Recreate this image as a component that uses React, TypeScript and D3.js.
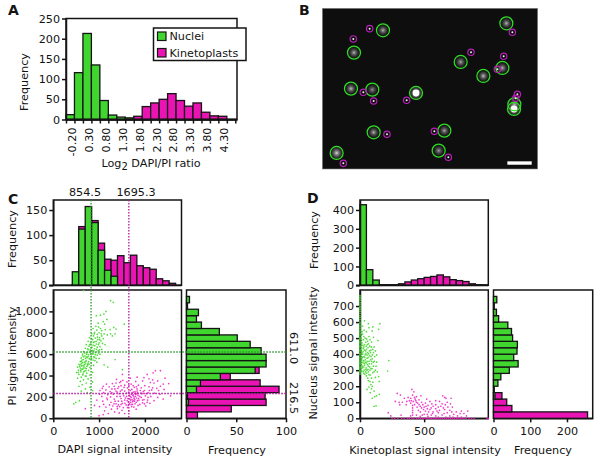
import { useEffect, useRef } from 'react';
import * as d3 from 'd3';

const GREEN = '#41d62f';
const PINK = '#ea14b4';
const INK = '#141414';
const FONT = '"DejaVu Sans", Verdana, sans-serif';
const TEXT_SIZE = 11.2;

// A: log2 ratio histogram, bins of 0.25 from -0.45
const ratioGreen = [12, 116, 213, 135, 47, 11, 6, 4];
const ratioPink = [0, 0, 0, 0, 0, 0, 0, 0, 8, 32, 41, 50, 64, 47, 33, 41, 18, 9, 8];
const ratioTicks = [-0.2, 0.3, 0.8, 1.3, 1.8, 2.3, 2.8, 3.3, 3.8, 4.3];

// B: microscope field, positions in image pixels
const nucleiCells = [
  [249, 91, 0.7], [162, 158, 0.7], [482, 186, 0.65], [550, 228, 0.75], [607, 204, 0.7], [619, 70, 0.7],
  [153, 266, 0.75], [217, 269, 0.55], [348, 279, 1], [643, 313, 0.7], [642, 327, 1], [221, 397, 0.7],
  [433, 392, 0.65], [416, 452, 0.6], [110, 459, 0.85],
];
const kinetoCells = [
  [209, 86], [160, 117], [513, 157], [611, 169], [592, 208], [637, 97], [190, 277], [221, 303], [320, 301],
  [652, 283], [647, 295], [261, 403], [403, 394], [445, 472], [130, 490],
];

// C: DAPI histogram (140 wide bins from 415)
const dapiGreen = [27, 112, 157, 125, 70, 30, 18];
const dapiPink = [2, 117, 3, 129, 84, 52, 50, 59, 45, 60, 39, 35, 32, 13, 9, 4];
// C: PI histogram (60 wide bins from 0)
const piGreen = [0, 0, 2, 1, 10, 14, 34, 69, 80, 80, 75, 64, 51, 33, 15, 10, 12, 1, 3];
const piPink = [11, 45, 80, 79, 93, 74, 44, 73];

const dapiGreenPts = [
  [1250, 1100], [1310, 1085], [1150, 1000], [1105, 975], [1030, 965], [940, 960], [1170, 925], [1090, 905],
  [980, 890], [1120, 880], [1320, 850], [1370, 835], [1240, 830], [1250, 790], [1350, 790], [1290, 770],
  [930, 860], [990, 855], [1030, 840], [870, 840], [950, 825], [1060, 820], [900, 805], [1000, 800],
  [1110, 790], [1180, 780], [840, 790], [960, 785], [1060, 770], [880, 770], [1010, 755], [920, 750],
  [790, 755], [1090, 745], [970, 735], [860, 735], [1040, 725], [760, 720], [900, 715], [1000, 705],
  [820, 705], [940, 695], [1130, 690], [720, 690], [870, 685], [780, 675], [1020, 670], [960, 665],
  [830, 660], [700, 655], [900, 650], [1060, 645], [760, 640], [850, 635], [980, 630], [660, 625],
  [800, 620], [920, 615], [730, 612], [870, 605], [1020, 600], [640, 600], [770, 595], [960, 590],
  [690, 585], [830, 580], [900, 572], [740, 568], [610, 565], [1000, 560], [800, 555], [660, 550],
  [870, 545], [720, 540], [1350, 550], [590, 532], [770, 530], [950, 525], [640, 520], [830, 515],
  [700, 510], [560, 505], [750, 498], [880, 495], [620, 490], [1190, 480], [670, 482], [530, 478],
  [800, 475], [590, 470], [720, 465], [640, 458], [1110, 500], [550, 450], [770, 448], [680, 442],
  [600, 435], [860, 430], [510, 428], [730, 422], [650, 415], [560, 410], [800, 405], [700, 395],
  [610, 385], [530, 375], [760, 368], [660, 360], [590, 345], [860, 340], [720, 330], [630, 315],
  [560, 300], [800, 290], [700, 275], [610, 255], [860, 260], [740, 240], [490, 150], [570, 165],
  [450, 135], [660, 1195], [1550, 880], [1510, 455], [640, 585], [910, 540], [690, 610], [745, 505],
  [615, 530], [855, 600], [795, 690], [1010, 640], [720, 575], [655, 470], [585, 500], [835, 745],
  [680, 500], [610, 510], [705, 530], [650, 495], [575, 485], [735, 485], [625, 460], [695, 470], [760, 515],
  [600, 450], [665, 435], [710, 445], [545, 430], [785, 560], [730, 600], [815, 600], [885, 630], [945, 645],
  [845, 665], [905, 680], [985, 690], [805, 640], [875, 710], [935, 720], [1015, 735], [965, 760], [895, 790],
  [1045, 790], [1135, 830], [835, 560], [705, 560], [665, 575], [760, 580], [625, 545], [680, 525], [1075, 700],
  [915, 595], [985, 610], [755, 650], [825, 625], [885, 575], [935, 560], [780, 505], [640, 405], [720, 395],
];
const dapiPinkPts = [
  [2230, 445], [2340, 445], [2180, 425], [2050, 410], [1830, 385], [1510, 410], [1380, 365], [1520, 355],
  [1680, 375], [1980, 380], [2090, 370], [2170, 360], [2440, 375], [2280, 350], [2520, 325], [2400, 320],
  [2340, 300], [2200, 330], [2120, 335], [1950, 350], [1800, 345], [1610, 340], [1450, 335], [1370, 330],
  [1290, 325], [1160, 320], [1090, 300], [1220, 295], [1330, 300], [1480, 305], [1560, 310], [1700, 320],
  [1860, 310], [2000, 305], [2090, 295], [2260, 280], [2420, 270], [2150, 265], [1920, 285], [1770, 290],
  [1620, 285], [1410, 280], [1280, 275], [1150, 265], [1020, 260], [1100, 240], [1240, 250], [1370, 255],
  [1500, 265], [1680, 260], [1830, 255], [1990, 260], [2070, 240], [2210, 235], [2330, 225], [2560, 210],
  [1940, 230], [1790, 235], [1720, 240], [1600, 235], [1440, 230], [1310, 225], [1190, 220], [1010, 225],
  [1060, 205], [1250, 200], [1390, 205], [1540, 210], [1660, 215], [1750, 220], [1850, 215], [2010, 210],
  [2130, 205], [2280, 195], [1760, 200], [1700, 195], [1820, 190], [1920, 195], [1630, 185], [1480, 185],
  [1330, 180], [1180, 175], [950, 170], [1080, 160], [1260, 150], [1420, 160], [1560, 170], [1690, 170],
  [1780, 175], [1870, 170], [1980, 175], [2060, 170], [2200, 165], [2400, 180], [1730, 155], [1640, 150],
  [1810, 150], [1950, 145], [2110, 140], [1510, 140], [1370, 135], [1230, 125], [900, 120], [1010, 110],
  [1150, 105], [1300, 115], [1450, 110], [1590, 125], [1700, 130], [1850, 120], [2020, 115], [1760, 105],
  [1620, 100], [1400, 90], [1270, 85], [1120, 70], [1340, 60], [1500, 75], [1650, 70], [1810, 85],
  [1200, 45], [1090, 35], [1440, 50], [1560, 45], [1000, 25], [700, 90], [640, 0], [1720, 175],
  [1750, 245], [1680, 205], [1800, 225], [1770, 160], [1840, 240], [1660, 135], [1710, 110], [1900, 260],
  [1600, 205], [1560, 255], [1460, 205], [1350, 160], [1420, 125], [1530, 100], [1890, 130], [1950, 170],
  [2070, 195], [2170, 285], [2300, 260], [1070, 280], [1170, 190], [1280, 240], [1100, 130], [1830, 275],
  [1735, 215], [1765, 185], [1795, 205], [1825, 230], [1705, 225], [1675, 180], [1745, 165], [1785, 250],
  [1715, 270], [1645, 245], [1615, 165], [1575, 190], [1525, 230], [1495, 160], [1465, 255], [1430, 295],
  [1395, 245], [1345, 275], [1885, 205], [1915, 235], [1965, 250], [2030, 230], [2100, 260], [1860, 185],
  [1690, 150], [1730, 130], [1635, 120], [1565, 140], [1480, 130], [1395, 110], [1325, 135], [1785, 135],
  [1840, 165], [1990, 135], [2050, 150], [1545, 290], [1650, 310], [1745, 305], [1815, 295], [1475, 345],
];
const dapiGuides = [825, 1650];
const dapiGuideLabels = ['854.5', '1695.3'];
const piGuides = [620, 232];
const piGuideLabels = ['611.0', '216.5'];

// D: kinetoplast histogram (50 wide bins from 0)
const kinetoGreen = [428, 83, 28, 3, 3, 3];
const kinetoPink = [0, 0, 0, 0, 0, 0, 8, 18, 28, 35, 42, 47, 55, 45, 30, 25, 20, 8, 3, 2];
// D: nucleus histogram (40 wide bins from 0)
const nucleusGreen = [0, 0, 0, 4, 2, 12, 20, 43, 67, 55, 64, 65, 52, 49, 39, 14, 8, 2, 9];
const nucleusPink = [256, 50, 36, 23];

const kinetoGreenPts = [
  [35, 608], [65, 590], [155, 590], [70, 565], [100, 570], [95, 545], [145, 555], [20, 575], [50, 540],
  [20, 525], [40, 500], [70, 510], [105, 505], [140, 485], [60, 480], [90, 475], [15, 470], [35, 460],
  [75, 450], [110, 445], [15, 440], [50, 430], [85, 425], [25, 415], [60, 410], [105, 410], [10, 400],
  [40, 395], [75, 390], [115, 385], [20, 380], [55, 375], [95, 370], [30, 360], [70, 355], [130, 350],
  [225, 360], [15, 350], [50, 345], [90, 340], [10, 335], [35, 330], [65, 325], [105, 325], [20, 315],
  [85, 310], [215, 295], [45, 305], [120, 300], [15, 295], [65, 290], [100, 285], [30, 280], [145, 260],
  [80, 270], [50, 265], [120, 255], [90, 250], [65, 235], [25, 290], [100, 225], [150, 230], [85, 210],
  [70, 195], [90, 185], [55, 180], [110, 170], [80, 160], [150, 150], [130, 140], [115, 135], [95, 125],
  [110, 75], [125, 78], [30, 445], [45, 475], [55, 395], [25, 360], [40, 350], [12, 420], [62, 440],
  [30, 510], [82, 365], [48, 315], [72, 340], [18, 325], [36, 380], [96, 395], [22, 455], [58, 335],
  [8, 500], [10, 455], [44, 420], [68, 402], [14, 385], [32, 300], [52, 282], [112, 355], [78, 300],
  [70, 272], [60, 250], [78, 230], [95, 200], [6, 360], [8, 310], [26, 435], [42, 365], [88, 445],
  [16, 540], [32, 550], [10, 520], [26, 490], [52, 495], [12, 485], [78, 490], [34, 425], [48, 450], [66, 465],
  [82, 410], [100, 430], [20, 400], [30, 385], [46, 405], [64, 380], [86, 385], [104, 350], [14, 370], [36, 340],
  [56, 355], [76, 320], [94, 310], [28, 320], [44, 290], [62, 305], [110, 290], [38, 275], [54, 300], [16, 410],
  [120, 420], [130, 395], [125, 325], [135, 290], [6, 425], [6, 385], [24, 345], [90, 355], [74, 420], [58, 460],
];
const kinetoAxisGreen = [
  765, 755, 745, 735, 722, 712, 700, 690, 680, 668, 655, 640, 628, 615, 600, 590, 580, 570, 560, 550, 540, 532,
  525, 515, 505, 498, 490, 480, 472, 465, 455, 448, 440, 430, 422, 415, 405, 398, 390, 382, 375, 365, 358, 350,
  342, 335, 325, 318, 310, 300, 292, 285, 275,
];
const kinetoPinkPts = [
  [405, 180], [420, 165], [290, 155], [315, 145], [410, 145], [440, 135], [475, 140], [645, 140], [660, 130],
  [710, 125], [670, 125], [375, 130], [345, 125], [395, 125], [430, 120], [460, 115], [520, 120], [590, 110],
  [620, 105], [680, 100], [275, 105], [305, 100], [330, 100], [365, 105], [415, 105], [440, 100], [480, 100],
  [510, 95], [545, 105], [705, 90], [665, 85], [640, 90], [590, 85], [310, 85], [360, 85], [395, 95], [425, 85],
  [460, 85], [490, 85], [530, 80], [570, 75], [610, 70], [650, 65], [720, 70], [410, 80], [410, 65], [410, 50],
  [410, 35], [410, 20], [500, 70], [525, 60], [545, 55], [480, 65], [445, 70], [590, 60], [620, 50], [660, 55],
  [700, 50], [750, 40], [790, 45], [840, 45], [510, 45], [470, 40], [570, 40], [610, 35], [680, 35], [730, 25],
  [780, 30], [810, 30], [220, 35], [240, 15], [320, 20], [395, 15], [440, 20], [500, 25], [555, 20], [640, 20],
  [590, 15], [700, 15], [760, 15], [830, 15], [530, 12], [470, 12], [610, 8], [670, 8], [725, 8], [790, 8],
  [400, 110], [425, 130], [450, 95], [385, 110], [435, 110], [470, 75], [515, 75], [555, 65], [535, 40], [495, 55],
  [560, 90], [600, 45], [630, 75], [685, 70], [655, 30], [715, 40], [565, 30], [525, 25], [485, 20], [455, 50],
];
const kinetoAxisPink = [
  250, 270, 295, 325, 345, 370, 385, 405, 420, 440, 455, 470, 485, 500, 515, 530, 545, 555, 570, 585, 600, 615,
  630, 645, 660, 675, 690, 705, 720, 735, 750, 765, 780, 795, 810, 825, 850, 870, 890, 990, 1000,
];

function styleAxis(sel: any) {
  sel.selectAll('path').attr('stroke', INK).attr('stroke-width', 1.5);
  sel.selectAll('line').attr('stroke', INK).attr('stroke-width', 1.5);
  sel.selectAll('text').attr('fill', INK).attr('font-family', FONT).attr('font-size', TEXT_SIZE);
}

function label(svg: any, text: string, x: number, y: number, rotate = 0, size = TEXT_SIZE, weight = 'normal') {
  return svg
    .append('text')
    .attr('transform', `translate(${x},${y}) rotate(${rotate})`)
    .attr('text-anchor', rotate === 0 && weight === 'normal' ? 'middle' : rotate === 0 ? 'start' : 'middle')
    .attr('font-family', FONT)
    .attr('font-size', size)
    .attr('font-weight', weight)
    .attr('fill', INK)
    .text(text);
}

function box(svg: any, x0: number, y0: number, x1: number, y1: number) {
  svg
    .append('rect')
    .attr('x', x0)
    .attr('y', y0)
    .attr('width', x1 - x0)
    .attr('height', y1 - y0)
    .attr('fill', 'none')
    .attr('stroke', INK)
    .attr('stroke-width', 1.5);
}

// vertical bars; pink goes under green like in the original plots
function columns(svg: any, x: any, y: any, start: number, width: number, values: number[], color: string) {
  values.forEach((v, i) => {
    if (!v) return;
    svg
      .append('rect')
      .attr('x', x(start + i * width))
      .attr('y', y(v))
      .attr('width', x(start + (i + 1) * width) - x(start + i * width))
      .attr('height', y(0) - y(v))
      .attr('fill', color)
      .attr('stroke', INK)
      .attr('stroke-width', 1.3);
  });
}

function rows(svg: any, x: any, y: any, width: number, values: number[], color: string) {
  values.forEach((v, i) => {
    if (!v) return;
    svg
      .append('rect')
      .attr('x', x(0))
      .attr('y', y((i + 1) * width))
      .attr('width', x(v) - x(0))
      .attr('height', y(i * width) - y((i + 1) * width))
      .attr('fill', color)
      .attr('stroke', INK)
      .attr('stroke-width', 1.3);
  });
}

function dots(svg: any, x: any, y: any, pts: number[][], color: string) {
  svg
    .append('g')
    .selectAll('circle')
    .data(pts)
    .enter()
    .append('circle')
    .attr('cx', (d: number[]) => x(d[0]))
    .attr('cy', (d: number[]) => y(d[1]))
    .attr('r', 0.85)
    .attr('fill', color);
}

export default function App() {
  const ref = useRef<SVGSVGElement>(null);

  useEffect(() => {
    const svg = d3.select(ref.current);
    svg.selectAll('*').remove();

    // === A ===
    const ax = d3.scaleLinear().domain([-0.45, 4.6]).range([66, 237]);
    const ay = d3.scaleLinear().domain([0, 250]).range([119.5, 18.5]);
    box(svg, 66, 18.5, 237, 119.5);
    columns(svg, ax, ay, -0.45, 0.25, ratioPink, PINK);
    columns(svg, ax, ay, -0.45, 0.25, ratioGreen, GREEN);
    svg.append('g').attr('transform', 'translate(66,0)')
      .call(d3.axisLeft(ay).tickValues([0, 50, 100, 150, 200, 250]).tickSize(4).tickPadding(2).tickSizeOuter(0))
      .call(styleAxis);
    const aTicks = d3.range(0, 21).map((i) => -0.45 + i * 0.25);
    const aAxis = svg.append('g').attr('transform', 'translate(0,119.5)')
      .call(d3.axisBottom(ax).tickValues(aTicks).tickSize(4).tickSizeOuter(0)
        .tickFormat((d: any) => {
          const hit = ratioTicks.find((t) => Math.abs(t - d) < 0.01);
          return hit === undefined ? '' : hit.toFixed(2);
        }))
      .call(styleAxis);
    aAxis.selectAll('text')
      .attr('transform', 'rotate(-90)')
      .attr('text-anchor', 'end')
      .attr('x', -8)
      .attr('y', -3)
      .attr('dy', '0.35em');
    svg.append('path').attr('d', `M66,119.5H237`).attr('stroke', INK).attr('stroke-width', 2);
    label(svg, 'Frequency', 28, 82, -90);
    const logLabel = label(svg, 'Log', 151, 166.5);
    logLabel.append('tspan').attr('dy', 3.5).attr('font-size', 10).text('2');
    logLabel.append('tspan').attr('dy', -3.5).text(' DAPI/PI ratio');

    // legend
    svg.append('rect').attr('x', 153.5).attr('y', 28).attr('width', 92.5).attr('height', 32.5)
      .attr('fill', '#fff').attr('stroke', INK).attr('stroke-width', 1.5);
    [['Nuclei', GREEN, 32], ['Kinetoplasts', PINK, 48.5]].forEach(([name, color, top]: any) => {
      svg.append('rect').attr('x', 157.5).attr('y', top).attr('width', 8.5).attr('height', 8.5)
        .attr('fill', color).attr('stroke', INK).attr('stroke-width', 1.2);
      svg.append('text').attr('x', 169.5).attr('y', top + 8).attr('font-family', FONT)
        .attr('font-size', TEXT_SIZE).attr('fill', INK).text(name);
    });

    // === B ===
    const bx = d3.scaleLinear().domain([67, 713]).range([322.3, 537.7]);
    const by = d3.scaleLinear().domain([25, 507]).range([8.3, 169]);
    const defs = svg.append('defs');
    const glow = defs.append('radialGradient').attr('id', 'spot');
    glow.append('stop').attr('offset', '0%').attr('stop-color', '#fff').attr('stop-opacity', 1);
    glow.append('stop').attr('offset', '35%').attr('stop-color', '#ccc').attr('stop-opacity', 0.6);
    glow.append('stop').attr('offset', '100%').attr('stop-color', '#777').attr('stop-opacity', 0);
    svg.append('rect').attr('x', bx(67)).attr('y', by(25)).attr('width', bx(713) - bx(67)).attr('height', by(507) - by(25))
      .attr('fill', '#0e0e0e').attr('stroke', '#8a8a8a').attr('stroke-width', 0.6);
    nucleiCells.forEach(([x, y, level]) => {
      svg.append('circle').attr('cx', bx(x)).attr('cy', by(y)).attr('r', level >= 0.85 ? 7 : 6)
        .attr('fill', 'url(#spot)').attr('opacity', level);
      if (level >= 1) {
        svg.append('circle').attr('cx', bx(x)).attr('cy', by(y)).attr('r', 3.4).attr('fill', '#fff');
      }
    });
    nucleiCells.forEach(([x, y]) => {
      svg.append('circle').attr('cx', bx(x)).attr('cy', by(y)).attr('r', 6.5)
        .attr('fill', 'none').attr('stroke', '#2fe025').attr('stroke-width', 1.25);
    });
    kinetoCells.forEach(([x, y]) => {
      svg.append('circle').attr('cx', bx(x)).attr('cy', by(y)).attr('r', 1).attr('fill', '#eee');
      svg.append('circle').attr('cx', bx(x)).attr('cy', by(y)).attr('r', 3.2)
        .attr('fill', 'none').attr('stroke', '#b81fb8').attr('stroke-width', 1.2);
    });
    svg.append('rect').attr('x', bx(622)).attr('y', by(484)).attr('width', bx(695) - bx(622)).attr('height', 3.4).attr('fill', '#fff');

    // === C ===
    const cx = d3.scaleLinear().domain([0, 2800]).range([53.3, 181.5]);
    const cTop = d3.scaleLinear().domain([0, 170]).range([285.3, 200]);
    const cy = d3.scaleLinear().domain([0, 1200]).range([418.3, 290]);
    const cSide = d3.scaleLinear().domain([0, 100]).range([186.5, 286]);

    box(svg, 53.3, 200, 181.5, 285.3);
    columns(svg, cx, cTop, 415, 141, dapiPink, PINK);
    columns(svg, cx, cTop, 415, 141, dapiGreen, GREEN);
    svg.append('g').attr('transform', 'translate(53.3,0)')
      .call(d3.axisLeft(cTop).tickValues([0, 50, 100, 150]).tickSize(4).tickPadding(2).tickSizeOuter(0))
      .call(styleAxis);
    svg.append('path').attr('d', 'M49,285.3H181.5').attr('stroke', INK).attr('stroke-width', 1.8);

    box(svg, 53.3, 290, 181.5, 418.3);
    dots(svg, cx, cy, dapiPinkPts, '#f03ccb');
    dots(svg, cx, cy, dapiGreenPts, '#52dc3e');
    svg.append('g').attr('transform', 'translate(53.3,0)')
      .call(d3.axisLeft(cy).tickValues([0, 200, 400, 600, 800, 1000]).tickSize(4).tickPadding(2).tickSizeOuter(0))
      .call(styleAxis);
    svg.append('g').attr('transform', 'translate(0,418.3)')
      .call(d3.axisBottom(cx).tickValues([0, 1000, 2000]).tickSize(4).tickPadding(5).tickSizeOuter(0).tickFormat(d3.format('d') as any))
      .call(styleAxis);

    box(svg, 186.5, 290, 286, 418.3);
    rows(svg, cSide, cy, 60, piPink, PINK);
    rows(svg, cSide, cy, 60, piGreen, GREEN);
    svg.append('g').attr('transform', 'translate(0,418.3)')
      .call(d3.axisBottom(cSide).tickValues([0, 50, 100]).tickSize(4).tickPadding(5).tickSizeOuter(0))
      .call(styleAxis);

    // median guide lines
    const guide = (x1: number, y1: number, x2: number, y2: number, color: string) =>
      svg.append('line').attr('x1', x1).attr('y1', y1).attr('x2', x2).attr('y2', y2)
        .attr('stroke', color).attr('stroke-width', 1.3).attr('stroke-dasharray', '1.5 1.5');
    guide(cx(dapiGuides[0]), 200, cx(dapiGuides[0]), 418.3, '#2a9a2a');
    guide(cx(dapiGuides[1]), 200, cx(dapiGuides[1]), 418.3, '#b0189c');
    guide(53.3, cy(piGuides[0]), 286, cy(piGuides[0]), '#2a9a2a');
    guide(53.3, cy(piGuides[1]), 286, cy(piGuides[1]), '#b0189c');

    label(svg, dapiGuideLabels[0], 85, 196);
    label(svg, dapiGuideLabels[1], 136, 196);
    label(svg, piGuideLabels[0], 290, 348, 90);
    label(svg, piGuideLabels[1], 290, 398, 90);
    label(svg, 'Frequency', 16, 239, -90);
    label(svg, 'PI signal intensity', 16, 356, -90);
    label(svg, 'DAPI signal intensity', 115, 453);
    label(svg, 'Frequency', 237, 454);

    // === D ===
    const dx = d3.scaleLinear().domain([0, 1000]).range([360, 488.3]);
    const dTop = d3.scaleLinear().domain([0, 453]).range([285.3, 200]);
    const dy = d3.scaleLinear().domain([0, 800]).range([418.3, 290]);
    const dSide = d3.scaleLinear().domain([0, 270]).range([493.5, 592.7]);

    box(svg, 360, 200, 488.3, 285.3);
    columns(svg, dx, dTop, 0, 50, kinetoPink, PINK);
    columns(svg, dx, dTop, 0, 50, kinetoGreen, GREEN);
    svg.append('g').attr('transform', 'translate(360,0)')
      .call(d3.axisLeft(dTop).tickValues([0, 100, 200, 300, 400]).tickSize(4).tickPadding(2).tickSizeOuter(0))
      .call(styleAxis);
    svg.append('path').attr('d', 'M356,285.3H488.3').attr('stroke', INK).attr('stroke-width', 1.8);

    box(svg, 360, 290, 488.3, 418.3);
    dots(svg, dx, dy, kinetoPinkPts, '#f03ccb');
    dots(svg, dx, dy, kinetoGreenPts, '#52dc3e');
    svg.append('g').attr('transform', 'translate(360,0)')
      .call(d3.axisLeft(dy).tickValues([0, 100, 200, 300, 400, 500, 600, 700]).tickSize(4).tickPadding(2).tickSizeOuter(0))
      .call(styleAxis);
    svg.append('g').attr('transform', 'translate(0,418.3)')
      .call(d3.axisBottom(dx).tickValues([0, 500]).tickSize(4).tickPadding(5).tickSizeOuter(0))
      .call(styleAxis);
    // points sitting on the axes are drawn over the axis lines
    dots(svg, dx, dy, kinetoAxisPink.map((v) => [v, 0]), PINK);
    dots(svg, dx, dy, kinetoAxisGreen.map((v) => [0, v]), GREEN);

    box(svg, 493.5, 290, 592.7, 418.3);
    rows(svg, dSide, dy, 40, nucleusPink, PINK);
    rows(svg, dSide, dy, 40, nucleusGreen, GREEN);
    svg.append('g').attr('transform', 'translate(0,418.3)')
      .call(d3.axisBottom(dSide).tickValues([0, 100, 200]).tickSize(4).tickPadding(5).tickSizeOuter(0))
      .call(styleAxis);

    label(svg, 'Frequency', 318, 240, -90);
    label(svg, 'Nucleus signal intensity', 317, 353, -90);
    label(svg, 'Kinetoplast signal intensity', 425, 454);
    label(svg, 'Frequency', 543, 454);

    // panel letters
    label(svg, 'A', 8, 15, 0, 14, 'bold');
    label(svg, 'B', 299, 15, 0, 14, 'bold');
    label(svg, 'C', 8, 204, 0, 14, 'bold');
    label(svg, 'D', 307, 203, 0, 14, 'bold');
  }, []);

  return (
    <svg
      ref={ref}
      width={600}
      height={468}
      style={{ position: 'absolute', left: 0, top: 0, background: '#fff' }}
    />
  );
}
